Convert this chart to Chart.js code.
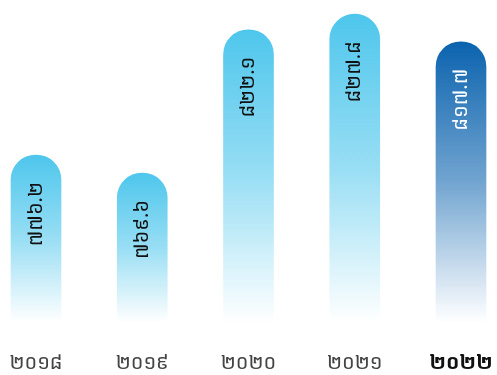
<!DOCTYPE html>
<html>
<head>
<meta charset="utf-8">
<script src="https://cdn.jsdelivr.net/npm/chart.js@4.4.0/dist/chart.umd.min.js"></script>
<style>
  html, body { margin: 0; padding: 0; background: #fff; }
  #wrap { width: 497px; height: 375px; }
</style>
</head>
<body>
<div id="wrap"><canvas id="chart"></canvas></div>
<script>
// ─── Data ─────────────────────────────────────────────────────────
const YEARS  = ['២០១៨', '២០១៩', '២០២០', '២០២១', '២០២២'];
const VALUES = [776.2, 769.6, 822.1, 827.8, 817.7];
const VALUE_LABELS = ['៧៧៦.២', '៧៦៩.៦', '៨២២.១', '៨២៧.៨', '៨១៧.៧'];
const HIGHLIGHT = 4;

const FONT = "'Noto Sans Khmer', 'Noto Sans', 'DejaVu Sans', sans-serif";

const LIGHT = [78, 198, 236];
const DARK  = [11, 99, 174];

function rgba(c, a) { return `rgba(${c[0]},${c[1]},${c[2]},${a})`; }

// fade each bar from its top to the axis
function barFill(ctx) {
    const chart = ctx.chart;
    const area = chart.chartArea;
    if (!area) return rgba(LIGHT, 1);
    const top = chart.scales.y.getPixelForValue(ctx.raw);
    const c = ctx.dataIndex === HIGHLIGHT ? DARK : LIGHT;
    const g = chart.ctx.createLinearGradient(0, top, 0, area.bottom);
    g.addColorStop(0,   rgba(c, 1));
    g.addColorStop(0.5, rgba(c, 0.58));
    g.addColorStop(1,   rgba(c, 0));
    return g;
}

// rotated value labels inside bars
const valueLabels = {
    id: 'valueLabels',
    afterDatasetsDraw(chart) {
        const ctx = chart.ctx;
        chart.getDatasetMeta(0).data.forEach((bar, i) => {
            ctx.save();
            ctx.translate(bar.x, bar.y + 27);
            ctx.rotate(-Math.PI / 2);
            ctx.font = `20px ${FONT}`;
            ctx.fillStyle = i === HIGHLIGHT ? '#ffffff' : '#111111';
            ctx.textAlign = 'right';
            ctx.textBaseline = 'middle';
            ctx.fillText(VALUE_LABELS[i], 0, 0);
            ctx.restore();
        });
    }
};

new Chart(document.getElementById('chart'), {
    type: 'bar',
    data: {
        labels: YEARS,
        datasets: [{
            data: VALUES,
            backgroundColor: barFill,
            borderWidth: 0,
            borderRadius: { topLeft: 25, topRight: 25 },
            borderSkipped: 'bottom',
            barThickness: 50,
            clip: false
        }]
    },
    options: {
        responsive: true,
        maintainAspectRatio: false,
        animation: false,
        layout: { padding: { left: 36, right: 36, top: 0, bottom: -21 } },
        plugins: {
            legend: { display: false },
            tooltip: { enabled: false }
        },
        scales: {
            x: {
                offset: false,
                grid: { display: false },
                border: { display: false },
                afterFit(scale) {
                    scale.paddingLeft = 0;
                    scale.paddingRight = 0;
                },
                ticks: {
                    padding: 21,
                    color: c => c.index === HIGHLIGHT ? '#111111' : '#444444',
                    font: c => ({
                        family: FONT,
                        size: 20,
                        weight: c.index === HIGHLIGHT ? 'bold' : 'normal'
                    })
                }
            },
            y: {
                display: false,
                min: 715,
                max: 833
            }
        }
    },
    plugins: [valueLabels]
});
</script>
</body>
</html>
